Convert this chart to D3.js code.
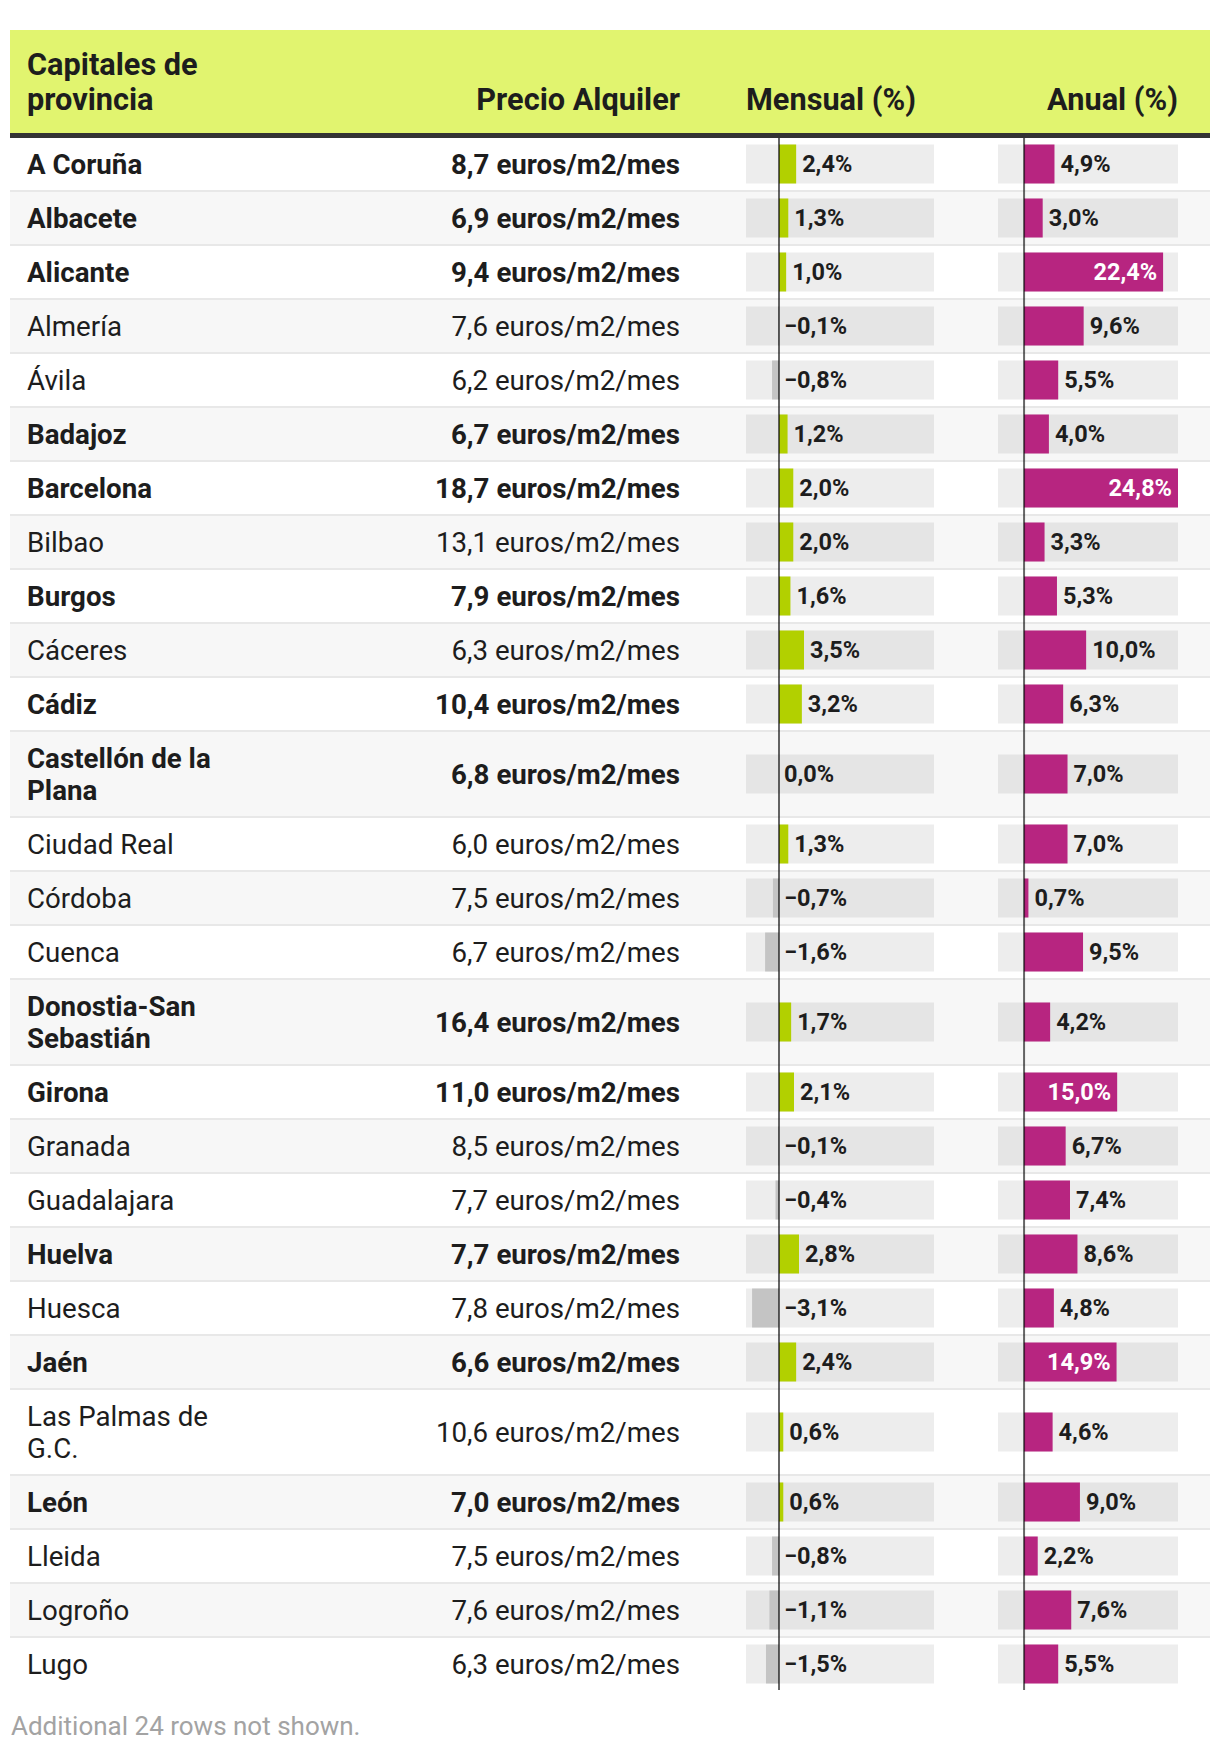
<!DOCTYPE html>
<html>
<head>
<meta charset="utf-8">
<script src="https://cdn.jsdelivr.net/npm/d3@7"></script>
<style>
  html, body { margin: 0; padding: 0; background: #fff; }
  svg { display: block; font-family: Roboto, "Noto Sans", sans-serif; }
</style>
</head>
<body>
<svg id="chart" width="1220" height="1750"></svg>
<script>
// ---------- data ----------
const headers = ["Capitales de provincia", "Precio Alquiler", "Mensual (%)", "Anual (%)"];
const capitales = ["A Coruña", "Albacete", "Alicante", "Almería", "Ávila", "Badajoz", "Barcelona", "Bilbao", "Burgos", "Cáceres", "Cádiz", "Castellón de la Plana", "Ciudad Real", "Córdoba", "Cuenca", "Donostia-San Sebastián", "Girona", "Granada", "Guadalajara", "Huelva", "Huesca", "Jaén", "Las Palmas de G.C.", "León", "Lleida", "Logroño", "Lugo"];
const precio = [8.7, 6.9, 9.4, 7.6, 6.2, 6.7, 18.7, 13.1, 7.9, 6.3, 10.4, 6.8, 6.0, 7.5, 6.7, 16.4, 11.0, 8.5, 7.7, 7.7, 7.8, 6.6, 10.6, 7.0, 7.5, 7.6, 6.3];
const mensual = [2.4, 1.3, 1.0, -0.1, -0.8, 1.2, 2.0, 2.0, 1.6, 3.5, 3.2, 0.0, 1.3, -0.7, -1.6, 1.7, 2.1, -0.1, -0.4, 2.8, -3.1, 2.4, 0.6, 0.6, -0.8, -1.1, -1.5];
const anual = [4.9, 3.0, 22.4, 9.6, 5.5, 4.0, 24.8, 3.3, 5.3, 10.0, 6.3, 7.0, 7.0, 0.7, 9.5, 4.2, 15.0, 6.7, 7.4, 8.6, 4.8, 14.9, 4.6, 9.0, 2.2, 7.6, 5.5];
const destacado = [1, 1, 1, 0, 0, 1, 1, 0, 1, 0, 1, 1, 0, 0, 0, 1, 1, 0, 0, 1, 0, 1, 0, 1, 0, 0, 0];
const unidad = " euros/m2/mes";
const nota = "Additional 24 rows not shown.";
// scale domains (include hidden rows' range)
const mensualDomain = [-3.8, 0, 21.7];
const anualDomain = [-4.2, 24.8];

// ---------- layout ----------
const tableL = 10, tableR = 1210;
const headerTop = 30, headerBottom = 133, headerBorder = 5;
const nameX = 27, nameMax = 220, priceR = 680;
const lineH = 32, rowPad = 10, sepW = 2;
const bodyFS = 27.7, headFS = 30.7, labelFS = 23.5;
const colors = {
  header: "#e1f46f", border: "#333333", text: "#1d1d1d", stripe: "#f7f7f7", sep: "#e8e8e8",
  box: "rgba(0,0,0,0.07)", pos: "#b2d000", neg: "#c4c4c4", anual: "#b72580", axis: "rgba(0,0,0,0.6)", note: "#a3a3a3"
};

const fmt = d3.formatLocale({decimal: ",", thousands: ".", grouping: [3], currency: ["", "€"], minus: "\u2212"}).format(".1f");

const svg = d3.select("#chart");

const xM = d3.scaleLinear().domain(mensualDomain).range([746, 779, 934]);
const xA = d3.scaleLinear().domain(anualDomain).range([998, 1178]);

// measuring helper
const measure = svg.append("text").attr("visibility", "hidden");
function textWidth(str, size, weight) {
  measure.attr("font-size", size).attr("font-weight", weight).text(str);
  return measure.node().getComputedTextLength();
}
function wrap(str, size, weight, max) {
  const words = str.split(" ");
  const lines = [];
  let cur = "";
  words.forEach(w => {
    const t = cur ? cur + " " + w : w;
    if (cur && textWidth(t, size, weight) > max) { lines.push(cur); cur = w; }
    else cur = t;
  });
  if (cur) lines.push(cur);
  return lines;
}

// rows
const rows = capitales.map((name, i) => {
  const weight = destacado[i] ? 700 : 400;
  const lines = wrap(name, bodyFS, weight, nameMax);
  return { name, lines, weight, precio: precio[i], mensual: mensual[i], anual: anual[i], i };
});
let yCur = headerBottom + headerBorder;
rows.forEach(r => {
  r.h = rowPad * 2 + lineH * r.lines.length;
  r.top = yCur;
  r.cy = yCur + r.h / 2;
  yCur += r.h + sepW;
});
const tableBottom = yCur - sepW;

// ---------- header ----------
svg.append("rect").attr("x", tableL).attr("y", headerTop).attr("width", tableR - tableL)
  .attr("height", headerBottom - headerTop).attr("fill", colors.header);
svg.append("rect").attr("x", tableL).attr("y", headerBottom).attr("width", tableR - tableL)
  .attr("height", headerBorder).attr("fill", colors.border);

const headBase = 110, headLine = 35;
const h0lines = wrap(headers[0], headFS, 700, nameMax);
svg.append("g").selectAll("text").data(h0lines).join("text")
  .attr("x", nameX).attr("y", (d, k) => headBase - (h0lines.length - 1 - k) * headLine)
  .attr("font-size", headFS).attr("font-weight", 700).attr("fill", colors.text).text(d => d);
svg.append("text").attr("x", priceR).attr("y", headBase).attr("text-anchor", "end")
  .attr("font-size", headFS).attr("font-weight", 700).attr("fill", colors.text).text(headers[1]);
svg.append("text").attr("x", xM.range()[0]).attr("y", headBase)
  .attr("font-size", headFS).attr("font-weight", 700).attr("fill", colors.text).text(headers[2]);
svg.append("text").attr("x", xA.range()[1]).attr("y", headBase).attr("text-anchor", "end")
  .attr("font-size", headFS).attr("font-weight", 700).attr("fill", colors.text).text(headers[3]);

// ---------- body ----------
const g = svg.append("g");
const rowG = g.selectAll("g.row").data(rows).join("g").attr("class", "row");

rowG.append("rect").attr("x", tableL).attr("y", d => d.top).attr("width", tableR - tableL)
  .attr("height", d => d.h).attr("fill", d => d.i % 2 ? colors.stripe : "#fff");
rowG.filter(d => d.i < rows.length - 1).append("rect").attr("x", tableL).attr("y", d => d.top + d.h)
  .attr("width", tableR - tableL).attr("height", sepW).attr("fill", colors.sep);

// names
rowG.each(function(d) {
  const sel = d3.select(this);
  const n = d.lines.length;
  sel.append("g").selectAll("text").data(d.lines).join("text")
    .attr("x", nameX)
    .attr("y", (l, k) => d.cy + (k - (n - 1) / 2) * lineH)
    .attr("dy", "0.35em")
    .attr("font-size", bodyFS).attr("font-weight", d.weight).attr("fill", colors.text)
    .text(l => l);
});
// price
rowG.append("text").attr("x", priceR).attr("y", d => d.cy).attr("dy", "0.35em")
  .attr("text-anchor", "end").attr("font-size", bodyFS).attr("font-weight", d => d.weight)
  .attr("fill", colors.text).text(d => fmt(d.precio) + unidad);

const boxH = 39;
function barColumn(sel, x, key, colorFn) {
  const x0 = x(0);
  const [r0, r1] = [x.range()[0], x.range()[x.range().length - 1]];
  sel.append("rect").attr("x", r0).attr("y", d => d.cy - boxH / 2).attr("width", r1 - r0)
    .attr("height", boxH).attr("fill", colors.box);
  sel.append("rect")
    .attr("x", d => Math.min(x(d[key]), x0)).attr("y", d => d.cy - boxH / 2)
    .attr("width", d => Math.abs(x(d[key]) - x0)).attr("height", boxH)
    .attr("fill", d => colorFn(d[key]));
  sel.each(function(d) {
    const v = d[key];
    const label = fmt(v) + "%";
    const tw = textWidth(label, labelFS, 700);
    const bw = Math.abs(x(v) - x0);
    const inside = v > 0 && bw > tw + 14;
    d3.select(this).append("text")
      .attr("x", inside ? x(v) - 6 : (v > 0 ? x(v) + 6 : x0 + 5))
      .attr("y", d.cy).attr("dy", "0.35em")
      .attr("text-anchor", inside ? "end" : "start")
      .attr("font-size", labelFS).attr("font-weight", 700)
      .attr("fill", inside ? "#fff" : colors.text).text(label);
  });
}
barColumn(rowG, xM, "mensual", v => v < 0 ? colors.neg : colors.pos);
barColumn(rowG, xA, "anual", v => v < 0 ? colors.neg : colors.anual);

// zero axis lines
[xM, xA].forEach(x => {
  g.append("line").attr("x1", x(0)).attr("x2", x(0))
    .attr("y1", headerBottom + headerBorder).attr("y2", tableBottom)
    .attr("stroke", colors.axis).attr("stroke-width", 2);
});

// note
svg.append("text").attr("x", 11).attr("y", tableBottom + 45)
  .attr("font-size", 26).attr("fill", colors.note).text(nota);
</script>
</body>
</html>
